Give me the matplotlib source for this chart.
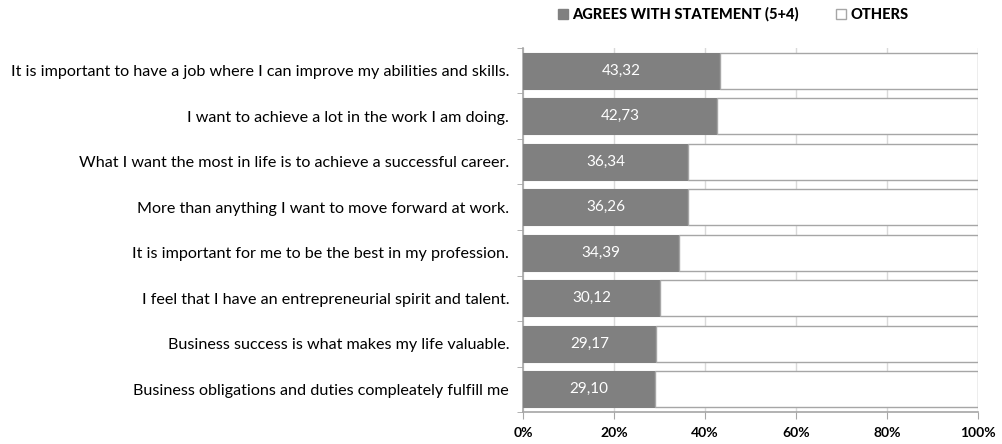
import matplotlib.pyplot as plt
from matplotlib.patches import Patch

plt.rcParams['font.family'] = ['Lato', 'DejaVu Sans']

statements = [
    "It is important to have a job where I can improve my abilities and skills.",
    "I want to achieve a lot in the work I am doing.",
    "What I want the most in life is to achieve a successful career.",
    "More than anything I want to move forward at work.",
    "It is important for me to be the best in my profession.",
    "I feel that I have an entrepreneurial spirit and talent.",
    "Business success is what makes my life valuable.",
    "Business obligations and duties compleately fulfill me",
]
agrees = [43.32, 42.73, 36.34, 36.26, 34.39, 30.12, 29.17, 29.10]
others = [100 - a for a in agrees]
tick_labels = ["0%", "20%", "40%", "60%", "80%", "100%"]

fig = plt.figure(figsize=(10.03, 4.44), dpi=100)
ax = fig.add_axes([0.5214, 0.072, 0.4536, 0.82])

y = list(range(len(statements)))
ax.barh(y, agrees, height=0.8, color="#808080", edgecolor="#808080", linewidth=0.8, zorder=3)
ax.barh(y, others, left=agrees, height=0.8, color="white", edgecolor="#a6a6a6", linewidth=1.0, zorder=3)

for yi, a in zip(y, agrees):
    ax.text(a / 2, yi, f"{a:.2f}".replace(".", ","), color="white", ha="center", va="center",
            fontsize=11, zorder=4)

ax.set_xlim(0, 100)
ax.set_ylim(len(statements) - 0.5, -0.5)
ax.set_xticks([0, 20, 40, 60, 80, 100])
ax.set_xticklabels(tick_labels, fontsize=10, fontweight="bold")
ax.set_yticks(y)
ax.set_yticklabels(statements, fontsize=11.6)
ax.set_yticks([i + 0.5 for i in range(-1, len(statements))], minor=True)
ax.tick_params(axis="y", which="major", length=0, pad=10)
ax.tick_params(axis="y", which="minor", length=4, color="#a6a6a6")
ax.tick_params(axis="x", length=5, color="#a6a6a6", pad=6)

ax.grid(axis="x", color="#d9d9d9", linewidth=1, zorder=0)
for s in ["top", "right"]:
    ax.spines[s].set_visible(False)
for s in ["left", "bottom"]:
    ax.spines[s].set_color("#a6a6a6")
    ax.spines[s].set_linewidth(1.2)

handles = [Patch(facecolor="#808080", edgecolor="#808080", label="AGREES WITH STATEMENT (5+4)"),
           Patch(facecolor="white", edgecolor="#a6a6a6", label="OTHERS")]
fig.legend(handles=handles, loc="center", bbox_to_anchor=(0.731, 0.967), ncol=2, frameon=False,
           prop={"weight": "black", "size": 10.5}, handlelength=0.7, handleheight=0.7,
           handletextpad=0.3, columnspacing=2.5)

fig.savefig("out.png", dpi=100)
